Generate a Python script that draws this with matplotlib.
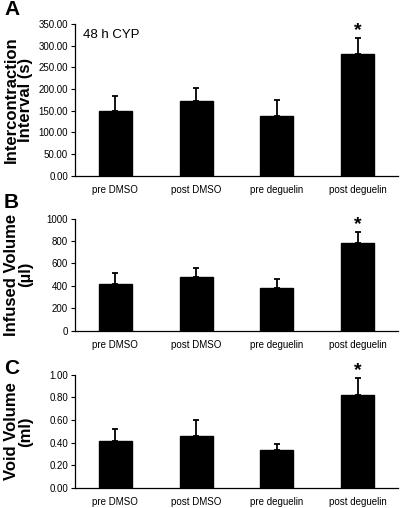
import matplotlib
matplotlib.use("Agg")
import matplotlib.pyplot as plt

plt.rcParams['font.family'] = ['Liberation Sans', 'DejaVu Sans']

groups = ["pre DMSO", "post DMSO", "pre deguelin", "post deguelin"]

ici = [150, 172, 137, 281]
ici_err = [33, 30, 38, 37]

infused = [417, 478, 383, 785]
infused_err = [95, 85, 78, 100]

void = [0.415, 0.46, 0.33, 0.82]
void_err = [0.105, 0.14, 0.055, 0.155]

fig = plt.figure(figsize=(4.02, 5.08), dpi=100)

# letter, values, errors, y label, ylim, ticks, tick format, axes bottom, axes height, letter baseline
panels = [
    ("A", ici, ici_err, "Intercontraction\nInterval (s)", (0, 350), range(0, 351, 50), "{:.2f}", 0.654, 0.2986, 0.971),
    ("B", infused, infused_err, "Infused Volume\n(µl)", (0, 1000), range(0, 1001, 200), "{:.0f}", 0.349, 0.2205, 0.591),
    ("C", void, void_err, "Void Volume\n(ml)", (0, 1.0), [0, 0.2, 0.4, 0.6, 0.8, 1.0], "{:.2f}", 0.040, 0.222, 0.264),
]

x = range(len(groups))
for letter, vals, errs, ylab, ylim, ticks, fmt, bottom, height, ly in panels:
    ax = fig.add_axes([0.1866, bottom, 0.8035, height])
    ax.bar(x, vals, width=0.41, color="black", edgecolor="black")
    ax.errorbar(x, vals, yerr=[[0] * len(vals), errs], fmt="none",
                ecolor="black", elinewidth=1.3, capsize=2.5, capthick=1.3)
    ax.set_xlim(-0.5, 3.5)
    ax.set_ylim(*ylim)
    ax.set_yticks(list(ticks))
    ax.set_yticklabels([fmt.format(t) for t in ticks], fontsize=7)
    ax.set_xticks(list(x))
    ax.set_xticklabels(groups, fontsize=7)
    ax.tick_params(axis="x", length=0, pad=7)
    ax.tick_params(axis="y", length=3, width=0.8, pad=2)
    for s in ["top", "right"]:
        ax.spines[s].set_visible(False)
    for s in ["left", "bottom"]:
        ax.spines[s].set_linewidth(0.9)
    ax.set_ylabel(ylab, fontsize=12, fontweight="bold", linespacing=0.95)
    ax.yaxis.set_label_coords(-0.13, 0.5)
    ax.annotate("*", (3, vals[3] + errs[3]), xytext=(0, 2), textcoords="offset points",
                ha="center", va="baseline", fontsize=14, fontweight="bold")
    fig.text(0.01, ly, letter, fontsize=15, fontweight="bold",
             ha="left", va="baseline")
    if letter == "A":
        ax.text(0.025, 0.93, "48 h CYP", transform=ax.transAxes, fontsize=9.5,
                ha="left", va="center")

fig.savefig("out.png", dpi=100)
